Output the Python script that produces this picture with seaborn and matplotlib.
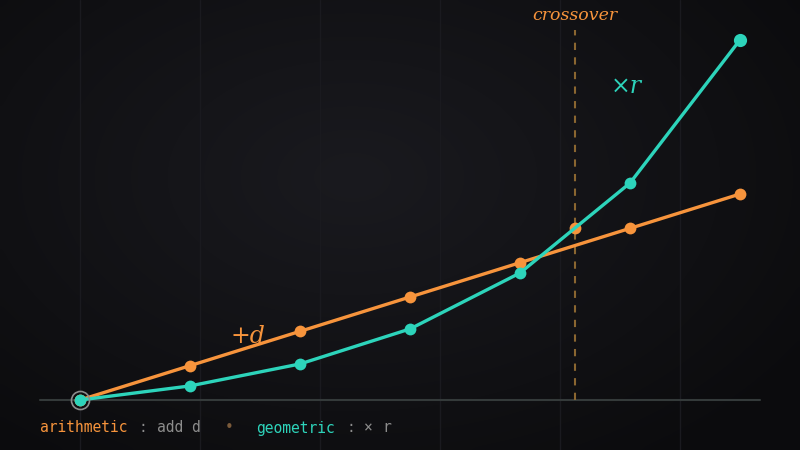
import numpy as np
import matplotlib
matplotlib.use("Agg")
import matplotlib.pyplot as plt
import seaborn as sns

# --- data ---
steps = [0, 1, 2, 3, 4, 5, 6]
arithmetic = [0, 1, 2, 3, 4, 5, 6]
geometric = [0, 0.41, 1.05, 2.07, 3.70, 6.32, 10.49]
crossover_x = 4.5
crossover_y = 5.0

ORANGE = "#f7943c"
TEAL = "#2dd4bb"
GREY = "#8c8c8c"
BG = "#111115"

sns.set_theme(style="dark")
plt.rcParams["font.family"] = ["DejaVu Sans"]

fig = plt.figure(figsize=(8, 4.5), dpi=100, facecolor=BG)
ax = fig.add_axes([0, 0, 1, 1])
ax.set_facecolor(BG)
ax.set_xlim(-80 / 110, 6 + 60 / 110)
ax.set_ylim(-50 / 34.33, 400 / 34.33)
ax.axis("off")

# soft radial glow in the background
yy, xx = np.mgrid[0:90, 0:160]
r = np.hypot((xx - 70) / 110, (yy - 35) / 70)
glow = np.clip(1 - r, 0, 1)
ax.imshow(glow, extent=(*ax.get_xlim(), *ax.get_ylim()), origin="upper",
          cmap=matplotlib.colors.LinearSegmentedColormap.from_list("g", ["#0b0b0d", "#1a1a1f"]),
          aspect="auto", zorder=0, interpolation="bicubic")

# faint vertical background lines (every 120 px)
for px in range(80, 800, 120):
    ax.axvline((px - 80) / 110, color="#1a1a1f", lw=1, zorder=0.5)

# baseline
ax.plot([-40 / 110, 680 / 110], [0, 0], color="#343a3a", lw=1.5, zorder=1)

# crossover guide
ax.plot([crossover_x, crossover_x], [0, 370 / 34.33], color="#8a6630",
        lw=1.5, dashes=(3.5, 3.5), zorder=2)

sns.lineplot(x=steps, y=arithmetic, ax=ax, color=ORANGE, lw=2.4, marker="o",
             markersize=8.5, markeredgewidth=0, zorder=3)
ax.plot([crossover_x], [crossover_y], "o", color=ORANGE, markersize=8.5, mew=0, zorder=3.5)
sns.lineplot(x=steps, y=geometric, ax=ax, color=TEAL, lw=2.4, marker="o",
             markersize=8.5, markeredgewidth=0, zorder=4)
ax.plot([steps[-1]], [geometric[-1]], "o", color=TEAL, markersize=9.5, mew=0, zorder=4.5)

# start ring
ax.plot([steps[0]], [geometric[0]], "o", mfc="none", mec=GREY, mew=1.2, markersize=13, zorder=5)

# annotations
serif = dict(family="DejaVu Serif", fontstyle="italic",
             ha="center", va="center", zorder=6)
ax.text(1.53, 1.84, "+d", color=ORANGE, fontsize=17, **serif)
ax.text(4.97, 9.12, "×r", color=TEAL, fontsize=17, **serif)
ax.text(crossover_x, 11.19, "crossover", color=ORANGE, fontsize=12.5, **serif)

# legend line at the bottom
legend_parts = [
    (40, "arithmetic", ORANGE),
    (139, ":", GREY),
    (157, "add d", GREY),
    (225, "•", "#7a5a3a"),
    (256, "geometric", TEAL),
    (346, ":", GREY),
    (364, "×", GREY),
    (382, "r", GREY),
]
for px, txt, col in legend_parts:
    fig.text(px / 800, 1 - 428 / 450, txt, color=col, fontsize=10.5,
             family="DejaVu Sans Mono", ha="left", va="center")

fig.savefig("out.png", dpi=100, facecolor=BG)
